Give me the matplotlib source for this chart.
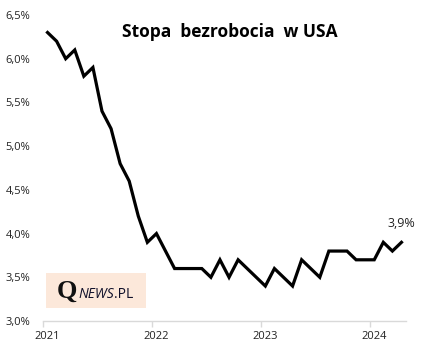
import matplotlib
matplotlib.use('Agg')
import matplotlib.pyplot as plt
from matplotlib.patches import Rectangle
from matplotlib.ticker import FuncFormatter

plt.rcParams['font.family'] = ['Open Sans', 'DejaVu Sans']

# miesięczna stopa bezrobocia w USA, styczeń 2021 - kwiecień 2024
rate_2021 = [6.3, 6.2, 6.0, 6.1, 5.8, 5.9, 5.4, 5.2, 4.8, 4.6, 4.2, 3.9]
rate_2022 = [4.0, 3.8, 3.6, 3.6, 3.6, 3.6, 3.5, 3.7, 3.5, 3.7, 3.6, 3.5]
rate_2023 = [3.4, 3.6, 3.5, 3.4, 3.7, 3.6, 3.5, 3.8, 3.8, 3.8, 3.7, 3.7]
rate_2024 = [3.7, 3.9, 3.8, 3.9]
years = ['2021', '2022', '2023', '2024']

rates = rate_2021 + rate_2022 + rate_2023 + rate_2024
months = list(range(len(rates)))

fig = plt.figure(figsize=(4.28, 3.54), dpi=100)
ax = fig.add_axes([43 / 428, 33 / 354, 363 / 428, 306 / 354])

ax.plot(months, rates, color='black', lw=2.3, solid_joinstyle='miter')

ax.set_xlim(-0.5, len(rates) - 0.5)
ax.set_ylim(3.0, 6.5)
ax.set_yticks([3.0 + 0.5 * k for k in range(8)])
ax.yaxis.set_major_formatter(FuncFormatter(lambda v, p: f'{v:.1f}%'.replace('.', ',')))
ax.tick_params(axis='y', length=0, pad=9, labelsize=8, labelcolor='#222222')

# kreski co rok, podpisy na styczniu
ax.set_xticks([12 * k - 0.5 for k in range(len(years))])
ax.set_xticklabels([])
ax.set_xticks([12 * k for k in range(len(years))], minor=True)
ax.set_xticklabels(years, minor=True)
ax.tick_params(axis='x', which='major', length=4, color='#d9d9d9', width=1)
ax.tick_params(axis='x', which='minor', length=0, pad=7, labelsize=8, labelcolor='#222222')

for s in ['top', 'right', 'left']:
    ax.spines[s].set_visible(False)
ax.spines['bottom'].set_color('#d9d9d9')
ax.spines['bottom'].set_linewidth(1)

ax.annotate(f'{rates[-1]:.1f}%'.replace('.', ','), (months[-1], rates[-1]),
            xytext=(0, 9), textcoords='offset points', ha='center', va='bottom',
            fontsize=9, color='#222222')

fig.text(230 / 428, 1 - 32 / 354, 'Stopa  bezrobocia  w USA', ha='center', va='center',
         fontsize=12.5, fontweight='bold', color='black')

# logo
fig.patches.append(Rectangle((46 / 428, 1 - 308 / 354), 100 / 428, 35 / 354,
                             transform=fig.transFigure, facecolor='#fce8da',
                             edgecolor='none', zorder=0))
base = 1 - 298 / 354
fig.text(57 / 428, base, 'Q', family='Liberation Serif', fontsize=19, fontweight='bold',
         color='#111111', va='baseline')
fig.text(78 / 428, base, 'NEWS', fontsize=10, style='italic', color='#10102a', va='baseline')
fig.text(114 / 428, base, '.PL', fontsize=10, color='#10102a', va='baseline')

plt.savefig('out.png', dpi=100)
plt.close()
